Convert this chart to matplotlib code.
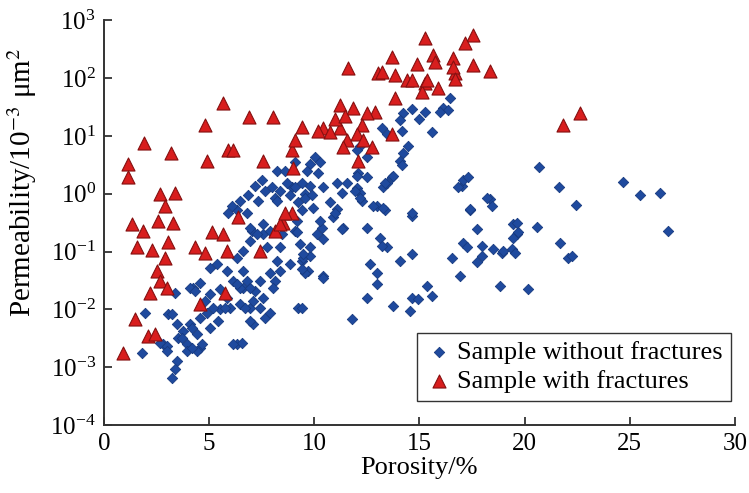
import numpy as np
import matplotlib
matplotlib.use('Agg')
import matplotlib.pyplot as plt
import matplotlib.ticker as ticker

plt.rcParams['font.family'] = 'serif'
plt.rcParams['font.serif'] = ['Liberation Serif', 'DejaVu Serif']
plt.rcParams['mathtext.fontset'] = 'stix'

# porosity (%) and log10 permeability (10^-3 um^2)
por_nofrac = [1.81, 1.95, 3.04, 3.38, 4.23, 3.47, 3.23, 3.38, 2.81, 3.95, 4.56, 6.32, 6.56, 5.04, 5.52,
              5.85, 6.61, 6.94, 7.09, 6.80, 2.66, 3.00, 3.52, 3.76, 4.09, 4.42, 4.56, 4.90, 5.18, 4.09,
              4.56, 5.04, 5.37, 5.85, 6.13, 6.47, 5.52, 5.04, 5.99, 6.47, 3.47, 3.00, 3.95, 4.42, 3.23,
              4.33, 4.80, 3.71, 4.18, 5.42, 5.75, 4.18, 4.66, 7.18, 6.70, 7.66, 8.13, 9.22, 9.42, 9.70,
              7.04, 7.56, 8.46, 9.08, 7.66, 8.13, 8.94, 9.56, 6.32, 5.90, 6.80, 6.32, 6.61, 6.32, 6.94,
              7.42, 7.89, 8.37, 8.04, 7.56, 7.09, 7.42, 7.89, 6.94, 8.23, 8.84, 9.46, 9.80, 9.56, 10.41,
              6.13, 11.79, 12.65, 12.98, 12.98, 12.51, 10.03, 10.27, 9.80, 9.65, 10.18, 8.23, 7.99, 8.37,
              8.70, 9.08, 9.42, 9.80, 10.41, 8.23, 8.84, 9.22, 9.56, 9.89, 9.42, 9.94, 10.75, 11.08,
              10.89, 11.37, 11.08, 11.32, 11.55, 12.03, 12.27, 12.08, 12.51, 12.98, 13.27, 13.22, 13.46,
              12.51, 10.37, 10.13, 10.27, 6.94, 7.28, 7.56, 7.89, 6.94, 6.61, 7.75, 8.37, 9.18, 9.18,
              9.32, 9.80, 9.46, 13.12, 13.46, 12.17, 13.46, 12.79, 13.36, 14.65, 10.98, 11.32, 10.41,
              9.42, 10.41, 13.22, 14.08, 14.65, 13.74, 14.55, 14.65, 14.93, 15.36, 15.60, 9.42, 17.02,
              18.36, 18.45, 17.40, 17.74, 17.07, 16.55, 17.26, 17.97, 17.97, 17.74, 16.93, 18.50, 18.93,
              19.45, 19.64, 18.83, 19.40, 20.68, 21.64, 22.44, 24.68, 25.49, 26.44, 26.82, 20.59, 19.45,
              19.69, 18.97, 19.54, 21.68, 22.06, 22.25, 20.16, 16.45, 16.12, 16.36, 15.98, 15.26, 14.65,
              14.22, 14.08, 15.60, 14.17, 14.46, 14.22, 14.08, 14.17, 13.70, 13.36, 13.74, 12.03, 11.94,
              12.17, 13.27, 14.65, 17.07, 16.83, 17.31, 18.21, 17.40, 12.17, 12.51, 12.03, 8.60, 9.08,
              7.51, 7.18, 6.85, 6.47, 6.09, 7.32, 15.00, 19.64]
logk_nofrac = [-2.75, -2.06, -2.08, -1.71, -1.63, -2.89, -3.19, -3.03, -2.60, -2.60, -2.67, -2.60, -2.58, -2.32, -1.99,
               -1.80, -1.63, -1.97, -2.25, -1.51, -2.58, -2.63, -2.49, -2.37, -2.25, -2.42, -2.15, -2.06, -1.97, -1.63,
               -1.54, -1.28, -1.21, -1.33, -1.51, -1.63, -1.65, -1.73, -1.97, -1.90, -2.25, -2.72, -2.72, -2.72, -2.08,
               -1.68, -1.85, -2.49, -2.32, -2.20, -1.97, -2.67, -2.60, -1.68, -1.97, -2.15, -1.51, -1.97, -1.16, -1.33,
               -0.64, -0.69, -0.69, -0.64, 0.05, -0.07, 0.11, 0.00, -0.29, -0.33, -0.33, -1.11, -1.33, -1.56, -1.63,
               -1.51, -1.38, -1.33, -1.63, -1.80, -1.85, -1.97, -2.06, -2.20, -1.16, -1.21, -1.11, -1.07, -1.37, -1.42,
               -2.60, -2.16, -1.21, -1.38, -1.56, -1.80, 0.63, 0.54, 0.52, 0.40, 0.35, 0.40, 0.11, 0.05,
               0.18, 0.11, 0.19, 0.14, 0.11, -0.12, -0.03, -0.15, -0.08, -0.03, -0.29, -0.24, -0.15, -0.26,
               -0.41, -0.59, 0.18, 0.02, 0.18, 0.09, -0.12, 0.35, 0.28, -0.21, 0.11, 1.13, 1.04,
               -0.59, -0.59, -0.69, -0.47, -0.59, -0.69, -0.52, -0.64, -0.81, -0.99, -0.93, -0.93, -0.47, -0.67,
               -0.87, -0.93, -1.04, -0.76, -0.93, 0.02, 0.18, -0.21, -0.29, -0.38, -0.34, -0.61, -0.78,
               -1.30, -1.45, -0.90, -1.16, -1.04, -1.94, -2.03, -1.80, -1.82, -1.59, -1.77, -1.97, 0.14,
               -0.09, -0.21, -0.29, -0.61, -0.85, -1.12, -0.93, -0.90, -1.07, -1.19, -1.42, -0.95, -1.02,
               -0.52, -0.69, -1.59, -0.95, 0.47, 0.12, -0.19, 0.21, -0.03, 0.02, -0.64, -0.57, -0.76,
               -0.67, -0.99, -1.02, -0.85, -1.11, -1.07, -1.64, 1.65, 1.49, 1.44, 1.41, 1.41, 1.47,
               1.39, 1.27, 1.06, 1.09, 0.83, 0.71, 0.57, 0.49, 0.28, 0.18, 0.31, 0.31, 0.05,
               -0.07, -0.24, -0.34, 0.23, 0.11, 0.28, -0.07, -0.26, 0.83, 0.63, 0.75, 0.40, 0.54,
               0.23, 0.14, -0.03, -0.12, -0.21, -0.12, 1.30, -0.50]

por_frac = [17.55, 17.17, 15.26, 13.70, 15.64, 16.60, 11.60, 14.88, 13.03, 13.84, 14.41, 17.55, 18.36, 16.69,
            15.26, 15.12, 15.88, 13.84, 11.22, 11.84, 12.89, 12.51, 9.41, 10.41, 11.22, 12.27, 12.03, 13.70,
            11.55, 12.32, 11.36, 12.74, 12.08, 10.75, 10.18, 8.94, 9.08, 8.99, 7.56, 5.66, 6.90, 8.04, 4.80,
            1.90, 3.19, 5.90, 4.90, 1.14, 1.14, 2.66, 3.38, 2.90, 2.57, 3.28, 1.33, 1.85, 1.57, 2.28, 3.04,
            2.90, 2.52, 2.66, 2.19, 3.00, 1.47, 2.09, 2.43, 0.90, 6.37, 5.14, 5.66, 4.33, 4.80, 5.85, 7.42,
            8.51, 8.94, 5.75, 4.56, 8.13, 8.37, 8.61, 6.13, 22.63, 21.83, 15.74, 16.60, 14.65, 15.36, 13.22,
            16.69, 11.00, 11.46]
logk_frac = [2.74, 2.60, 2.69, 2.36, 2.39, 2.34, 2.17, 2.25, 2.08, 2.05, 1.96, 2.22, 2.13, 2.08,
             1.91, 1.75, 1.82, 1.65, 1.53, 1.49, 1.41, 1.39, 1.15, 1.13, 1.13, 1.18, 1.04, 1.04,
             0.92, 0.92, 0.80, 0.80, 0.57, 1.06, 1.09, 0.75, 0.92, 0.45, 0.57, 1.56, 1.32, 1.32, 1.18,
             0.87, 0.71, 0.76, 0.57, 0.52, 0.28, 0.00, 0.02, -0.22, -0.48, -0.50, -0.52, -0.64, -0.93, -0.97, -0.83,
             -1.12, -1.33, -1.51, -1.71, -1.63, -2.16, -2.46, -2.42, -2.75, -0.41, -0.67, -0.69, -0.93, -1.02, -0.99, -0.99,
             -0.50, -0.33, -1.71, -1.90, -0.64, -0.52, -0.33, 0.75, 1.39, 1.18, 2.27, 2.19, 1.96, 1.96, 2.10,
             1.99, 1.30, 1.35]

perm_nofrac = 10 ** np.array(logk_nofrac)
perm_frac = 10 ** np.array(logk_frac)

fig = plt.figure(figsize=(7.49, 4.93), dpi=100)
ax = fig.add_axes([0.139, 0.138, 0.842, 0.821])

ax.scatter(por_nofrac, perm_nofrac, marker='D', s=28, c='#1f4a9e', edgecolors='#173a80',
           linewidths=0.6, label='Sample without fractures', zorder=2)
ax.scatter(por_frac, perm_frac, marker='^', s=88, c='#d81e1e', edgecolors='#851010',
           linewidths=0.8, label='Sample with fractures', zorder=3)

ax.set_yscale('log')
ax.set_xlim(0, 30)
ax.set_ylim(1e-4, 1e3)
ax.xaxis.set_major_locator(ticker.MultipleLocator(5))
ax.yaxis.set_major_locator(ticker.LogLocator(base=10, numticks=10))
ax.yaxis.set_minor_locator(ticker.NullLocator())

for side in ['top', 'right']:
    ax.spines[side].set_visible(False)
for side in ['left', 'bottom']:
    ax.spines[side].set_color('#333333')
    ax.spines[side].set_linewidth(1.4)
ax.tick_params(direction='in', length=6, width=1.3, color='#333333', labelsize=18, pad=6)

ax.set_xlabel('Porosity/%', fontsize=19, labelpad=1)
ax.set_ylabel(r'Permeability/10$^{-3}$ μm$^{2}$', fontsize=21)
ax.yaxis.set_label_coords(-0.104, 0.60)

leg = ax.legend(loc='lower right', bbox_to_anchor=(0.994, 0.059), fontsize=19, frameon=True,
                fancybox=False, edgecolor='black', handletextpad=0.15, borderpad=0.3,
                labelspacing=0.2, handlelength=1.1, borderaxespad=0, scatterpoints=1)
leg.get_frame().set_linewidth(1.0)

fig.savefig('out.png', dpi=100)
